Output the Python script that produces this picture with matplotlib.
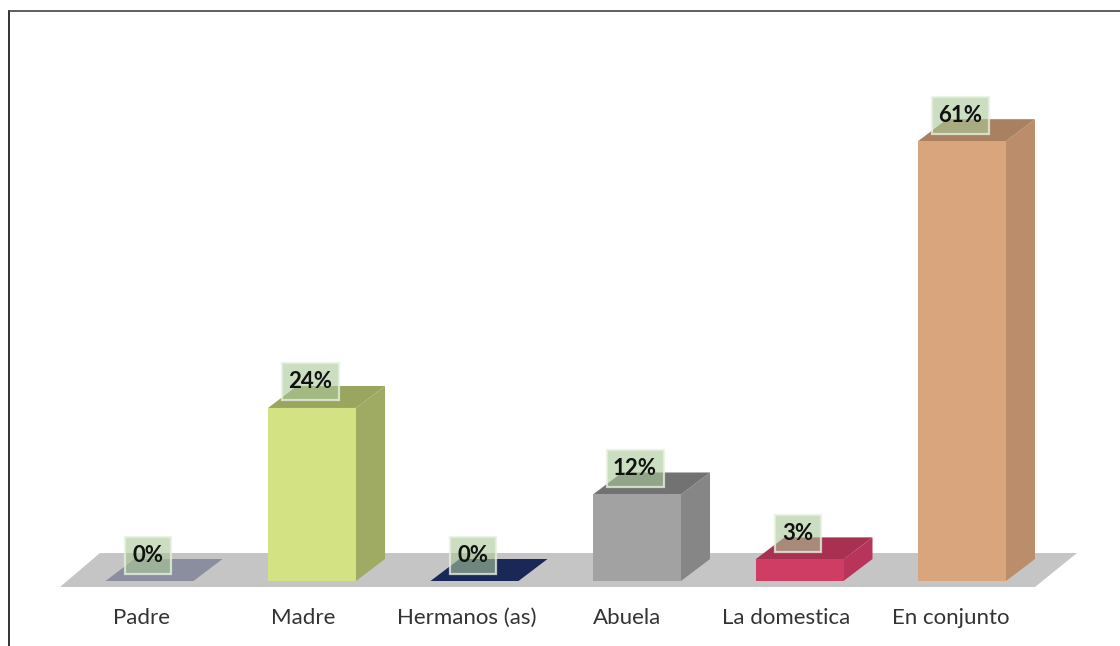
import matplotlib
matplotlib.use("Agg")
import matplotlib.pyplot as plt
from matplotlib.patches import Polygon, Rectangle

categories = ["Padre", "Madre", "Hermanos (as)", "Abuela", "La domestica", "En conjunto"]
values = [0, 24, 0, 12, 3, 61]
labels = ["0%", "24%", "0%", "12%", "3%", "61%"]
front_colors = ["#8f93a2", "#d3e283", "#1c2a60", "#a2a2a2", "#cf3d65", "#d9a57c"]
top_colors = ["#8a8e9e", "#9aa660", "#1a2858", "#727272", "#a83050", "#a98060"]
side_colors = ["#8a8e9e", "#9fab63", "#1a2858", "#868686", "#b8345a", "#bb8d6a"]
cat_shift_px = [-8, -9, -8, -10, -13, -11]

W, H = 1120, 646
PX_X, PX_Y = 162.5, 7.21      # pixels per category / per percent
X0, Y0 = 149.5, 581           # pixel of first category centre, and of the zero line
BAR = 88 / PX_X
DX, DY = 29 / PX_X, 22 / PX_Y  # oblique depth

fig = plt.figure(figsize=(W / 100, H / 100), dpi=100)
ax = fig.add_axes([0, 0, 1, 1])
ax.set_xlim(-X0 / PX_X, (W - X0) / PX_X)
ax.set_ylim(-(H - Y0) / PX_Y, Y0 / PX_Y)
ax.axis("off")

# floor
low = -6 / PX_Y
high = 28 / PX_Y
ax.add_patch(Polygon([(-89.5 / PX_X, low), (-49.5 / PX_X, high), (927.5 / PX_X, high), (885.5 / PX_X, low)],
                     closed=True, fc="#c5c5c5", ec="none", zorder=1))

for i, (v, c, t, s) in enumerate(zip(values, front_colors, top_colors, side_colors)):
    l, r = i - BAR / 2, i + BAR / 2
    ax.add_patch(Polygon([(r, 0), (r + DX, DY), (r + DX, v + DY), (r, v)], closed=True, fc=s, ec="none", zorder=2))
    ax.add_patch(Polygon([(l, v), (l + DX, v + DY), (r + DX, v + DY), (r, v)], closed=True, fc=t, ec="none", zorder=2))
    ax.bar(i, v, width=BAR, color=c, zorder=3)
    ax.text(i + cat_shift_px[i] / PX_X, -37 / PX_Y, categories[i], ha="center", va="center", fontsize=16,
            family="Lato", color="#333333", zorder=6)
    bw = (57 if len(labels[i]) == 3 else 46) / PX_X
    bh = 37 / PX_Y
    cx = i - 2 / PX_X
    cy = v + 26 / PX_Y
    ax.add_patch(Rectangle((cx - bw / 2, cy - bh / 2), bw, bh, fc="#a9c898", ec="none", alpha=0.6, zorder=4))
    ax.add_patch(Rectangle((cx - bw / 2, cy - bh / 2), bw, bh, fc="none", ec="#e6efe0", lw=1.6, alpha=0.8, zorder=5))
    ax.text(cx, cy, labels[i], ha="center", va="center", fontsize=16,
            family="Lato", fontweight="bold", color="#111111", zorder=6)

# picture frame
ax.plot([9 / PX_X - X0 / PX_X] * 2, [-(H - Y0) / PX_Y, (Y0 - 11) / PX_Y], color="#111111", lw=1.2, zorder=7)
ax.plot([9 / PX_X - X0 / PX_X, (W - X0) / PX_X], [(Y0 - 11) / PX_Y] * 2, color="#444444", lw=1.2, zorder=7)

fig.savefig("out.png", dpi=100)
